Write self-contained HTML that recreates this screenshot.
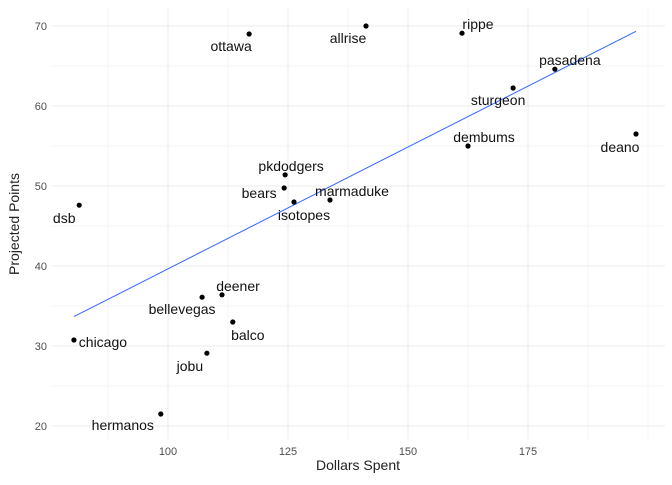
<!DOCTYPE html>
<html><head><meta charset="utf-8"><style>
body{margin:0;background:#fff;font-family:"Liberation Sans",sans-serif}
</style></head><body>
<svg width="672" height="480" xmlns="http://www.w3.org/2000/svg">
<g id="grid"></g>
<g id="marks"></g>
<text x="358" y="470" text-anchor="middle" font-size="14" fill="#222">Dollars Spent</text>
<text transform="translate(19,224) rotate(-90)" text-anchor="middle" font-size="14" fill="#222">Projected Points</text>
</svg>
<script>
const teams=["ottawa","allrise","rippe","pasadena","sturgeon","dembums","deano","pkdodgers","bears","isotopes","marmaduke","dsb","deener","bellevegas","balco","chicago","jobu","hermanos"];
const dollars=[116.9,141.25,161.25,180.6,171.9,162.5,197.5,124.4,124.2,126.25,133.75,81.5,111.25,107.1,113.5,80.4,108.1,98.5];
const points=[69.0,70.0,69.1,64.6,62.25,55.0,56.5,51.4,49.75,48.0,48.25,47.6,36.4,36.1,33.0,30.75,29.1,21.5];
const xTicks=[100,125,150,175];
const yTicks=[20,30,40,50,60,70];
const labelDx=[-18,-18,16,15,-15,16,-16,6,-25,10,22,-15,16,-20,15,29,-17,-38];
const labelDy=[12,12,-9,-9,12,-9,13,-9,5,13,-9,13,-9,12,13,2,13,11];
const NS="http://www.w3.org/2000/svg";
const X=v=>168+(v-100)*4.8, Y=v=>426-(v-20)*8;
const L=52,R=665,T=8,B=440;
function mk(t,a,p){const e=document.createElementNS(NS,t);for(const k in a)e.setAttribute(k,a[k]);p.appendChild(e);return e;}
const g=document.getElementById('grid'),m=document.getElementById('marks');
for(let v=87.5;X(v)<R;v+=12.5){const major=xTicks.includes(v);
const ln=mk('line',{x1:X(v),x2:X(v),y1:T,y2:B,stroke:'#ebebeb','stroke-width':major?1.1:0.55},g);
}
for(let v=15;Y(v)>T;v+=5){if(Y(v)>B)continue;const major=yTicks.includes(v);
const ln=mk('line',{x1:L,x2:R,y1:Y(v),y2:Y(v),stroke:'#ebebeb','stroke-width':major?1.1:0.55},g);
}
xTicks.forEach(v=>{const t=mk('text',{x:X(v),y:455,'text-anchor':'middle','font-size':11,fill:'#4d4d4d'},g);t.textContent=v;
});
yTicks.forEach(v=>{const t=mk('text',{x:47,y:Y(v)+4,'text-anchor':'end','font-size':11,fill:'#4d4d4d'},g);t.textContent=v;
});
// regression
const n=dollars.length,mx=dollars.reduce((a,b)=>a+b)/n,my=points.reduce((a,b)=>a+b)/n;
let sxy=0,sxx=0;for(let i=0;i<n;i++){sxy+=(dollars[i]-mx)*(points[i]-my);sxx+=(dollars[i]-mx)**2;}
const sl=sxy/sxx,ic=my-sl*mx,x0=Math.min(...dollars),x1=Math.max(...dollars);
const rl=mk('line',{x1:X(x0),y1:Y(ic+sl*x0),x2:X(x1),y2:Y(ic+sl*x1),stroke:'#3366ff','stroke-width':1},m);

teams.forEach((nm,i)=>{
const c=mk('circle',{cx:X(dollars[i]),cy:Y(points[i]),r:2.6,fill:'#000'},m);

const t=mk('text',{x:X(dollars[i])+labelDx[i],y:Y(points[i])+labelDy[i]+5,'text-anchor':'middle','font-size':14,fill:'#111'},m);
t.textContent=nm;});
</script>
</body></html>
